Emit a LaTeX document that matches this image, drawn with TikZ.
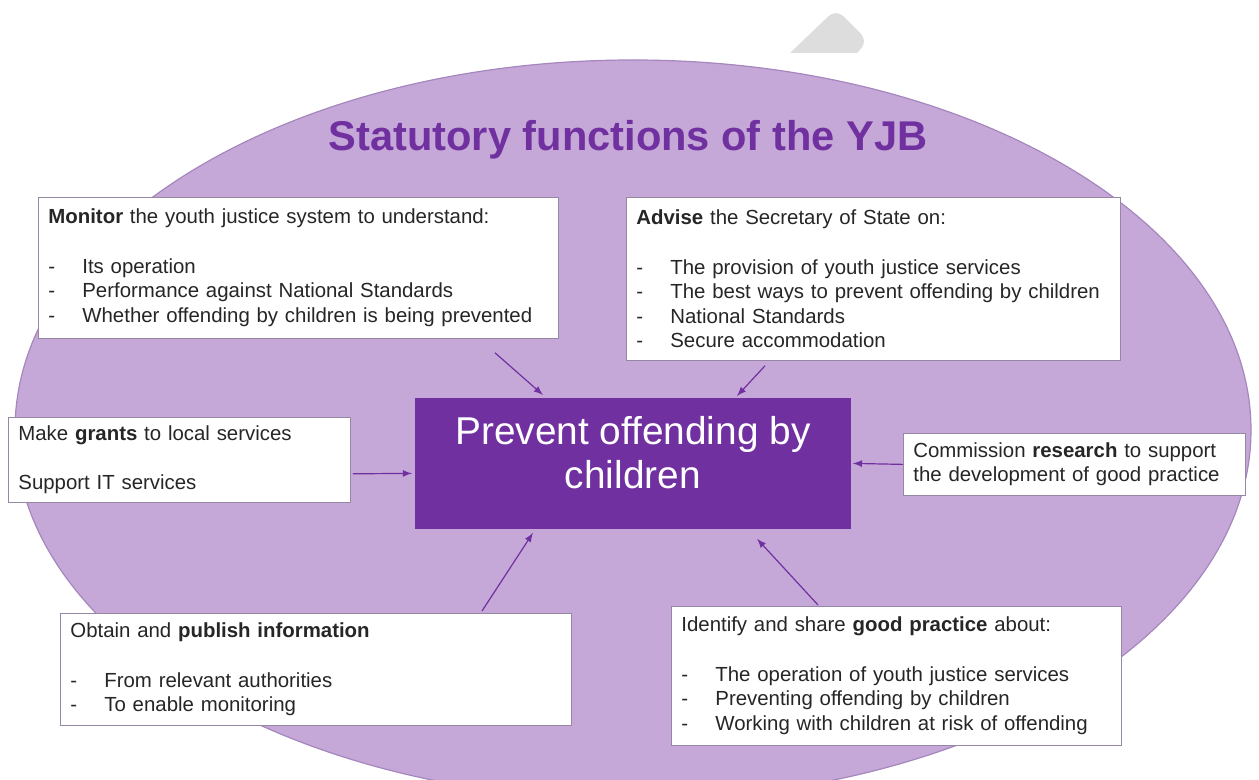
\documentclass[tikz,border=0pt]{standalone}
\usepackage{fontspec}
\setmainfont{Liberation Sans}
\usepackage{tikz}
\usetikzlibrary{arrows}
\usetikzlibrary{calc}

\definecolor{ovalfill}{RGB}{197,168,216}
\definecolor{ovaledge}{RGB}{165,135,190}
\definecolor{yjbpurple}{RGB}{112,48,160}
\definecolor{boxedge}{RGB}{150,135,165}
\definecolor{bodytext}{RGB}{38,38,38}
\definecolor{tabgrey}{RGB}{221,221,221}

\newcommand{\itm}[1]{\makebox[17pt][l]{-}\mbox{#1}}
\hyphenpenalty=10000
\exhyphenpenalty=10000

\begin{document}
\begin{tikzpicture}[x=0.5pt, y=-0.5pt,
				   every node/.style={font=\fontsize{10.2}{12.25}\selectfont, text=bodytext},
				   fbox/.style={draw=boxedge, fill=white, anchor=north west, align=left, inner xsep=5pt, inner ysep=0pt},
				   arr/.style={-latex, yjbpurple, line width=0.6pt}]
\useasboundingbox (0,0) rectangle (1259,780);

% background oval and the grey tab
\begin{scope}
	\clip (0,0) rectangle (1259,780);
	\fill[ovalfill, draw=ovaledge, line width=0.6pt] (633,430) ellipse [x radius=309pt, y radius=185pt];
\end{scope}
\fill[tabgrey] (790,53) [rounded corners=5pt] -- (836,9) -- (868,41) [sharp corners] -- (857,53) -- cycle;

\node[font=\fontsize{20.8}{24}\selectfont\bfseries, text=yjbpurple] (title) at (628,140) {Statutory functions of the YJB};

\node[draw=yjbpurple, fill=yjbpurple, anchor=north west, minimum width=217.5pt, minimum height=65pt,
	  align=center, text=white, font=\fontsize{19.4}{22}\selectfont] (ctr) at (415,398)
	{Prevent offending by\\children\rule[-11pt]{0pt}{11pt}};

\node[fbox, text width=250pt, minimum height=70.5pt] (mon) at (38,197)
	{\textbf{Monitor} the youth justice system to understand:\\[12.5pt]
	 \itm{Its operation}\\
	 \itm{Performance against National Standards}\\
	 \itm{Whether offending by children is being prevented}};
\node[fbox, text width=237pt, minimum height=81.5pt] (adv) at (626,197)
	{\textbf{Advise} the Secretary of State on:\\[12.5pt]
	 \itm{The provision of youth justice services}\\
	 \itm{The best ways to prevent offending by children}\\
	 \itm{National Standards}\\
	 \itm{Secure accommodation}};
\node[fbox, text width=161pt, minimum height=42.5pt] (grt) at (8,417)
	{Make \textbf{grants} to local services\\[12.5pt]
	 Support IT services};
\node[fbox, text width=161pt, minimum height=31pt] (res) at (903,433)
	{Commission \textbf{research} to support\\
	 the development of good practice};
\node[fbox, text width=245.5pt, minimum height=56pt] (pub) at (60,613)
	{Obtain and \textbf{publish information}\\[12.5pt]
	 \itm{From relevant authorities}\\
	 \itm{To enable monitoring}};
\node[fbox, text width=215pt, minimum height=69.5pt] (gd) at (671,606)
	{Identify and share \textbf{good practice} about:\\[12.5pt]
	 \itm{The operation of youth justice services}\\
	 \itm{Preventing offending by children}\\
	 \itm{Working with children at risk of offending}};

\draw[arr] ($(mon.south west)+(457,14)$) to ($(ctr.north west)+(128,-3)$);
\draw[arr] ($(adv.south west)+(139,5)$) to ($(ctr.north west)+(322,-2)$);
\draw[arr] ($(grt.south east)+(2,-29)$) to ($(ctr.west)+(-3,10)$);
\draw[arr] (res.west) to ($(ctr.east)+(2,0)$);
\draw[arr] ($(pub.north west)+(422,-2)$) to ($(ctr.south west)+(118,4)$);
\draw[arr] ($(gd.north west)+(147,-1)$) to ($(ctr.south west)+(342,10)$);
\end{tikzpicture}
\end{document}
